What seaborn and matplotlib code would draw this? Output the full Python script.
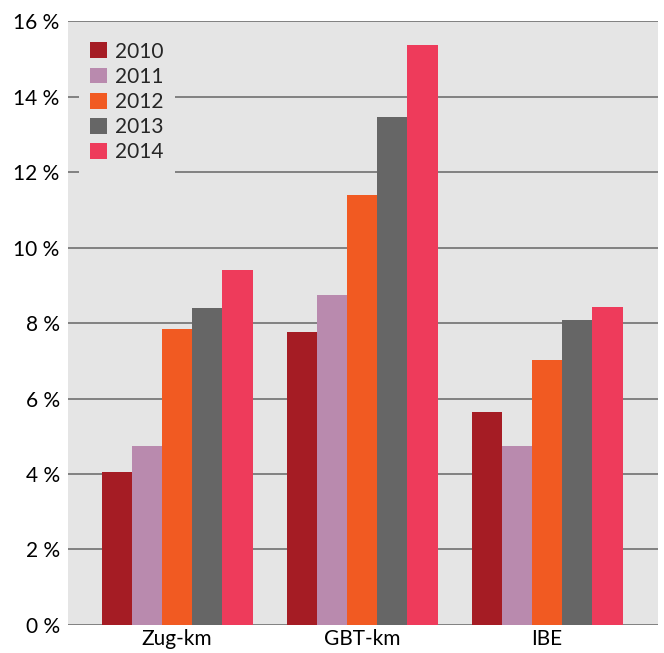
import pandas as pd
import numpy as np
import matplotlib
matplotlib.use('Agg')
import matplotlib.pyplot as plt
import seaborn as sns

# Daten (Anteile in %)
categories = ['Zug-km', 'GBT-km', 'IBE']
years = ['2010', '2011', '2012', '2013', '2014']
v2010 = [4.05, 7.76, 5.64]
v2011 = [4.74, 8.74, 4.74]
v2012 = [7.84, 11.39, 7.02]
v2013 = [8.40, 13.46, 8.08]
v2014 = [9.40, 15.36, 8.42]
yticks = [0, 2, 4, 6, 8, 10, 12, 14, 16]

colors = ['#a51c24', '#b98aae', '#f15a22', '#666666', '#ee3b5b']

rows = []
for year, vals in zip(years, [v2010, v2011, v2012, v2013, v2014]):
    for cat, v in zip(categories, vals):
        rows.append({'Kategorie': cat, 'Jahr': year, 'Wert': v})
df = pd.DataFrame(rows)

sns.set_style('white')
plt.rcParams['font.family'] = ['Lato', 'DejaVu Sans']

fig = plt.figure(figsize=(6.64, 6.53), dpi=100)
ax = fig.add_axes([0.1024, 0.0429, 0.8886, 0.9249])
ax.set_facecolor('#e5e5e5')

sns.barplot(data=df, x='Kategorie', y='Wert', hue='Jahr', palette=colors,
            width=0.816, gap=0, saturation=1, errorbar=None, ax=ax, zorder=2,
            linewidth=0, edgecolor='none')

ax.set_xlim(-0.59, 2.6)
ax.set_ylim(0, 16)
ax.set_yticks(yticks)
ax.set_yticklabels([f'{t} %' for t in yticks])
ax.yaxis.grid(True, color='#666666', linewidth=1.1, zorder=1)
ax.set_axisbelow(True)
for s in ax.spines.values():
    s.set_visible(False)
ax.tick_params(axis='both', length=0, labelsize=15, colors='black')
ax.tick_params(axis='y', pad=6)
ax.tick_params(axis='x', pad=3)
ax.set_xlabel('')
ax.set_ylabel('')

leg = ax.legend(loc='upper left', bbox_to_anchor=(0.0186, 0.985), frameon=True,
                fontsize=15, handlelength=0.78, handleheight=0.78,
                handletextpad=0.4, labelspacing=0.25, borderpad=0.55,
                borderaxespad=0, fancybox=False)
leg.get_frame().set_facecolor('#e5e5e5')
leg.get_frame().set_edgecolor('none')
leg.get_frame().set_alpha(1)

fig.savefig('out.png', dpi=100)
